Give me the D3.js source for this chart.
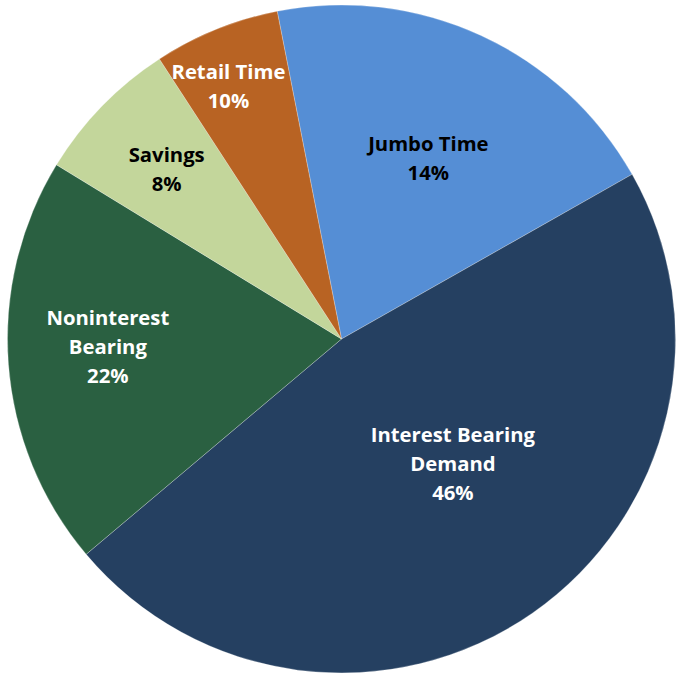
<!DOCTYPE html>
<html>
<head>
<meta charset="utf-8">
<script src="https://cdn.jsdelivr.net/npm/d3@7"></script>
<style>
  html, body { margin: 0; padding: 0; background: #fff; }
  svg { display: block; }
</style>
</head>
<body>
<svg id="chart" width="682" height="677"></svg>
<script>
// ---- data ----
const categories = ["Jumbo Time", "Interest Bearing Demand", "Noninterest Bearing", "Savings", "Retail Time"];
const values = [19.9, 47.1, 19.9, 7.1, 6.1];           // slice sizes as drawn
const labelLines = [["Jumbo Time"], ["Interest Bearing", "Demand"], ["Noninterest", "Bearing"], ["Savings"], ["Retail Time"]];
const labelPercents = ["14%", "46%", "22%", "8%", "10%"]; // printed labels
const colors = ["#558ed5", "#254061", "#2a6041", "#c3d69b", "#b86323"];
const textColors = ["#000000", "#ffffff", "#ffffff", "#000000", "#ffffff"];

// ---- layout ----
const width = 682, height = 677;
const cx = 341.5, cy = 339, radius = 334;
const startDeg = -11.1;
const labelRadiusFrac = [0.60, 0.50, 0.70, 0.73, 0.83];
const labelAngleShiftDeg = [1, -7, 2.5, 0, -2];
const lineHeight = 29;
const fontSize = 20.3;

const svg = d3.select("#chart");
const g = svg.append("g").attr("transform", `translate(${cx},${cy})`);

const toRad = d => d * Math.PI / 180;
const pie = d3.pie().sort(null).value(d => d.value)
  .startAngle(toRad(startDeg)).endAngle(toRad(startDeg + 360));

const data = categories.map((c, i) => ({ name: c, value: values[i], i }));
const arcs = pie(data);
const arc = d3.arc().innerRadius(0).outerRadius(radius);

g.selectAll("path.slice").data(arcs).join("path")
  .attr("class", "slice")
  .attr("d", arc)
  .attr("fill", d => colors[d.data.i])
  .attr("stroke", "rgba(255,255,255,0.35)")
  .attr("stroke-width", 0.7);

const labels = g.selectAll("text.lbl").data(arcs).join("text")
  .attr("class", "lbl")
  .attr("font-family", "'Open Sans', 'Noto Sans', sans-serif")
  .attr("font-weight", 700)
  .attr("font-size", fontSize)
  .attr("text-anchor", "middle")
  .attr("fill", d => textColors[d.data.i])
  .each(function (d) {
    const i = d.data.i;
    const mid = (d.startAngle + d.endAngle) / 2 + toRad(labelAngleShiftDeg[i]);
    const r = radius * labelRadiusFrac[i];
    const x = Math.sin(mid) * r;
    const y = -Math.cos(mid) * r;
    const lines = labelLines[i].concat([labelPercents[i]]);
    const n = lines.length;
    const t = d3.select(this);
    lines.forEach((ln, k) => {
      t.append("tspan")
        .attr("x", x)
        .attr("y", y + (k - (n - 1) / 2) * lineHeight + fontSize * 0.35)
        .text(ln);
    });
  });
</script>
</body>
</html>
